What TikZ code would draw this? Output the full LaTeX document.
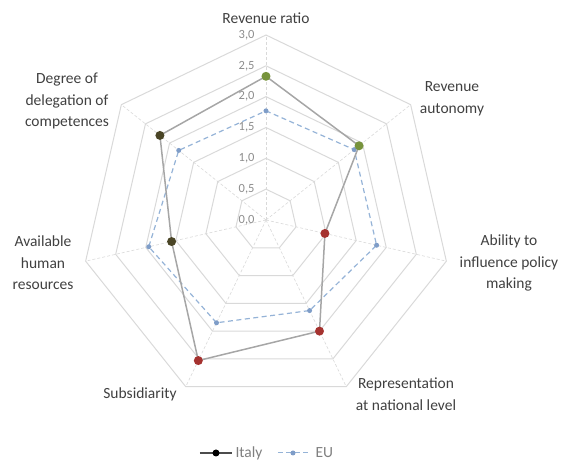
\documentclass[tikz,border=0pt]{standalone}
\usepackage{fontspec}
\setmainfont{Carlito}
\usetikzlibrary{positioning, calc}

\definecolor{ringgray}{HTML}{D9D9D9}
\definecolor{italyline}{HTML}{A6A6A6}
\definecolor{euline}{HTML}{95B3D7}
\definecolor{eumark}{HTML}{7F9DC8}
\definecolor{itgreen}{HTML}{77933C}
\definecolor{itred}{HTML}{A5322F}
\definecolor{itolive}{HTML}{4A4526}
\definecolor{labelgray}{HTML}{404040}
\definecolor{tickgray}{HTML}{8C8C8C}
\definecolor{legendgray}{HTML}{7F7F7F}

\def\unitr{61.67}

\begin{document}
\begin{tikzpicture}[x=1pt, y=1pt,
    ring/.style={draw=ringgray, line width=1pt},
    spoke/.style={draw=ringgray, densely dashed, line width=0.6pt},
    itline/.style={draw=italyline, line width=1.5pt},
    eudash/.style={draw=euline, dash pattern=on 5pt off 3.5pt, line width=1.2pt},
    itdot/.style={circle, inner sep=0pt, minimum size=9pt},
    eudot/.style={circle, fill=eumark, inner sep=0pt, minimum size=5pt},
    axislabel/.style={text=labelgray, font=\fontsize{15.5}{21.5}\selectfont, align=center},
    ticklabel/.style={text=tickgray, font=\fontsize{12.5}{13}\selectfont, anchor=east},
    legendtext/.style={text=legendgray, font=\fontsize{15.5}{17}\selectfont, anchor=west}]

    \useasboundingbox (-266,-248) rectangle (302,220);

    \foreach \r in {0.5,1.0,...,3.0}
        \draw[ring] (90:\r*\unitr) -- (38.57:\r*\unitr) -- (-12.86:\r*\unitr) -- (-64.29:\r*\unitr)
            -- (-115.71:\r*\unitr) -- (-167.14:\r*\unitr) -- (141.43:\r*\unitr) -- cycle;
    \foreach \a in {90,38.57,-12.86,-64.29,-115.71,-167.14,141.43}
        \draw[spoke] (0,0) -- (\a:3*\unitr);

    \node[ticklabel] (t0) at (-8,0) {0,0};
    \node[ticklabel] (t1) at (-8,0.5*\unitr) {0,5};
    \node[ticklabel] (t2) at (-8,1.0*\unitr) {1,0};
    \node[ticklabel] (t3) at (-8,1.5*\unitr) {1,5};
    \node[ticklabel] (t4) at (-8,2.0*\unitr) {2,0};
    \node[ticklabel] (t5) at (-8,2.5*\unitr) {2,5};
    \node[ticklabel] (t6) at (-8,3.0*\unitr) {3,0};

    \coordinate (e1) at (90:1.77*\unitr);
    \coordinate (e2) at (38.57:1.83*\unitr);
    \coordinate (e3) at (-12.86:1.84*\unitr);
    \coordinate (e4) at (-64.29:1.63*\unitr);
    \coordinate (e5) at (-115.71:1.85*\unitr);
    \coordinate (e6) at (-167.14:1.95*\unitr);
    \coordinate (e7) at (141.43:1.81*\unitr);

    \coordinate (i1) at (90:2.33*\unitr);
    \coordinate (i2) at (38.57:1.93*\unitr);
    \coordinate (i3) at (-12.86:0.98*\unitr);
    \coordinate (i4) at (-64.29:2.0*\unitr);
    \coordinate (i5) at (-115.71:2.53*\unitr);
    \coordinate (i6) at (-167.14:1.57*\unitr);
    \coordinate (i7) at (141.43:2.2*\unitr);

    \draw[eudash] (e1) -- (e2) -- (e3) -- (e4) -- (e5) -- (e6) -- (e7) -- cycle;
    \node[eudot] (em1) at (e1) {};
    \node[eudot] (em2) at (e2) {};
    \node[eudot] (em3) at (e3) {};
    \node[eudot] (em4) at (e4) {};
    \node[eudot] (em5) at (e5) {};
    \node[eudot] (em6) at (e6) {};
    \node[eudot] (em7) at (e7) {};

    \draw[itline] (i1) -- (i2) -- (i3) -- (i4) -- (i5) -- (i6) -- (i7) -- cycle;
    \node[itdot, fill=itgreen] (im1) at (i1) {};
    \node[itdot, fill=itgreen] (im2) at (i2) {};
    \node[itdot, fill=itred] (im3) at (i3) {};
    \node[itdot, fill=itred] (im4) at (i4) {};
    \node[itdot, fill=itred] (im5) at (i5) {};
    \node[itdot, fill=itolive] (im6) at (i6) {};
    \node[itdot, fill=itolive] (im7) at (i7) {};

    \node[axislabel] (revratio) at (0,202) {Revenue ratio};
    \node[axislabel] (revauto) at (186,121) {Revenue\\autonomy};
    \node[axislabel] (ability) at (243,-43) {Ability to\\influence policy\\making};
    \node[axislabel] (repr) at (140,-174) {Representation\\at national level};
    \node[axislabel] (subsid) at (-126,-174) {Subsidiarity};
    \node[axislabel] (avail) at (-223,-43) {Available\\human\\resources};
    \node[axislabel] (degree) at (-199,119) {Degree of\\delegation of\\competences};

    \coordinate (la) at (-66,-233);
    \coordinate (lb) at (-34,-233);
    \draw[black!70, line width=1.2pt] (la) -- (lb);
    \node[circle, fill=black, inner sep=0pt, minimum size=7pt] (lim) at ($(la)!0.5!(lb)$) {};
    \node[legendtext, right=0pt of lb] (litaly) {Italy};
    \coordinate (lc) at (12,-233);
    \coordinate (ld) at (42,-233);
    \draw[eudash, line width=1pt] (lc) -- (ld);
    \node[eudot] (lem) at ($(lc)!0.5!(ld)$) {};
    \node[legendtext, right=4pt of ld] (leu) {EU};
\end{tikzpicture}
\end{document}
